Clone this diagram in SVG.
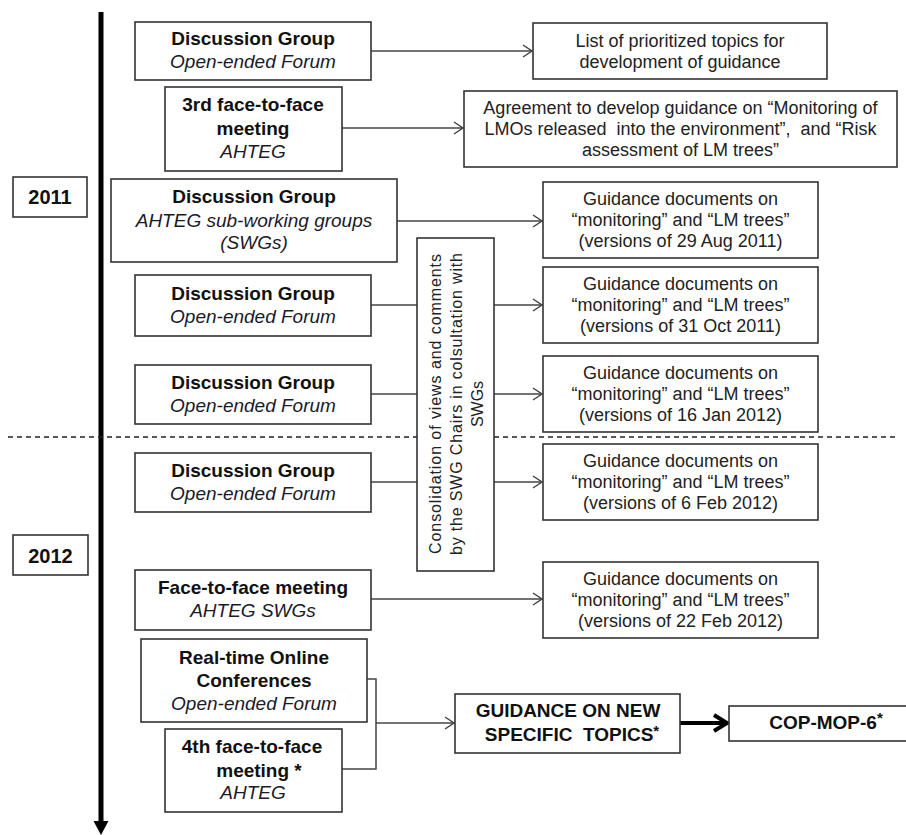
<svg xmlns="http://www.w3.org/2000/svg" width="906" height="835" viewBox="0 0 906 835">
<style>
  .box { fill: #fff; stroke: #333; stroke-width: 1.6; }
  .b { font-family: "Liberation Sans", Arial, sans-serif; font-weight: bold; font-size: 19px; fill: #111; text-anchor: middle; }
  .y { font-size: 20px; }
  .i { font-family: "Liberation Sans", Arial, sans-serif; font-style: italic; font-size: 19px; fill: #1a1a2a; text-anchor: middle; }
  .r { font-family: "Liberation Sans", Arial, sans-serif; font-size: 18px; fill: #222; text-anchor: middle; white-space: pre; }
  .v { font-family: "Liberation Sans", Arial, sans-serif; font-size: 16px; fill: #222; text-anchor: middle; }
  .sup { font-size: 15px; }
  .ln { fill: none; stroke: #444; stroke-width: 1.5; }
  .arr { marker-end: url(#open); }
</style>
<defs>
  <marker id="open" markerUnits="userSpaceOnUse" markerWidth="12" markerHeight="14" refX="10" refY="7" orient="auto">
    <path d="M1,1 L10,7 L1,13" fill="none" stroke="#444" stroke-width="1.5"/>
  </marker>
  <marker id="thick" markerUnits="userSpaceOnUse" markerWidth="18" markerHeight="20" refX="15" refY="10" orient="auto">
    <path d="M2,2 L15,10 L2,18" fill="none" stroke="#000" stroke-width="4"/>
  </marker>
</defs>
<rect width="906" height="835" fill="#fff"/>

<g id="timeline">
  <line x1="101" y1="12" x2="101" y2="823" stroke="#000" stroke-width="5"/>
  <polygon points="93.5,821 108.5,821 101,835" fill="#000"/>
  <line x1="8" y1="437" x2="897" y2="437" stroke="#222" stroke-width="1.4" stroke-dasharray="5,4"/>
</g>

<g id="year2011">
  <rect class="box" x="13" y="177" width="74" height="40"/>
  <text class="b y" x="50" y="204">2011</text>
</g>
<g id="year2012">
  <rect class="box" x="13" y="535" width="75" height="40"/>
  <text class="b y" x="50.5" y="563">2012</text>
</g>

<g id="connectors">
  <line class="ln arr" x1="371" y1="51" x2="532" y2="51"/>
  <line class="ln arr" x1="342" y1="128" x2="463" y2="128"/>
  <line class="ln arr" x1="397" y1="221" x2="542" y2="221"/>
  <line class="ln" x1="371" y1="305" x2="417" y2="305"/>
  <line class="ln arr" x1="494" y1="305" x2="542" y2="305"/>
  <line class="ln" x1="371" y1="394" x2="417" y2="394"/>
  <line class="ln arr" x1="494" y1="394" x2="542" y2="394"/>
  <line class="ln" x1="371" y1="482" x2="417" y2="482"/>
  <line class="ln arr" x1="494" y1="482" x2="542" y2="482"/>
  <line class="ln arr" x1="371" y1="599" x2="542" y2="599"/>
  <polyline class="ln" points="367,679 376,679 376,769 342,769"/>
  <line class="ln arr" x1="376" y1="723" x2="454" y2="723"/>
  <line x1="680" y1="723" x2="727" y2="723" stroke="#000" stroke-width="4" marker-end="url(#thick)"/>
</g>

<g id="dg1">
  <rect class="box" x="135" y="22" width="236" height="58"/>
  <text class="b" x="253" y="45">Discussion Group</text>
  <text class="i" x="253" y="68">Open-ended Forum</text>
</g>
<g id="f2f3">
  <rect class="box" x="165" y="87" width="177" height="84"/>
  <text class="b" x="253" y="111">3rd face-to-face</text>
  <text class="b" x="253" y="135">meeting</text>
  <text class="i" x="253" y="158">AHTEG</text>
</g>
<g id="dg-swg">
  <rect class="box" x="111" y="179" width="286" height="83"/>
  <text class="b" x="254" y="203">Discussion Group</text>
  <text class="i" x="254" y="227">AHTEG sub-working groups</text>
  <text class="i" x="254" y="249">(SWGs)</text>
</g>
<g id="dg2">
  <rect class="box" x="135" y="275" width="236" height="61"/>
  <text class="b" x="253" y="300">Discussion Group</text>
  <text class="i" x="253" y="323">Open-ended Forum</text>
</g>
<g id="dg3">
  <rect class="box" x="135" y="365" width="236" height="59"/>
  <text class="b" x="253" y="389">Discussion Group</text>
  <text class="i" x="253" y="412">Open-ended Forum</text>
</g>
<g id="dg4">
  <rect class="box" x="135" y="453" width="236" height="59"/>
  <text class="b" x="253" y="477">Discussion Group</text>
  <text class="i" x="253" y="500">Open-ended Forum</text>
</g>
<g id="f2f-swg">
  <rect class="box" x="135" y="570" width="236" height="60"/>
  <text class="b" x="253" y="594">Face-to-face meeting</text>
  <text class="i" x="253" y="617">AHTEG SWGs</text>
</g>
<g id="online">
  <rect class="box" x="141" y="639" width="226" height="83"/>
  <text class="b" x="254" y="664">Real-time Online</text>
  <text class="b" x="254" y="687">Conferences</text>
  <text class="i" x="254" y="710">Open-ended Forum</text>
</g>
<g id="f2f4">
  <rect class="box" x="165" y="729" width="177" height="83"/>
  <text class="b" x="252" y="753">4th face-to-face</text>
  <text class="b" x="259" y="777">meeting *</text>
  <text class="i" x="253" y="799">AHTEG</text>
</g>

<g id="consolidation">
  <rect class="box" x="417" y="238" width="77" height="333"/>
  <g transform="translate(455.5,404) rotate(-90)">
    <text class="v" x="0" y="-15" textLength="300" lengthAdjust="spacing">Consolidation of views and comments</text>
    <text class="v" x="0" y="6" textLength="302" lengthAdjust="spacing">by the SWG Chairs in colsultation with</text>
    <text class="v" x="0" y="27">SWGs</text>
  </g>
</g>

<g id="out-topics">
  <rect class="box" x="533" y="23" width="294" height="56"/>
  <text class="r" x="680" y="47">List of prioritized topics for</text>
  <text class="r" x="680" y="68">development of guidance</text>
</g>
<g id="out-agreement">
  <rect class="box" x="464" y="91" width="433" height="76"/>
  <text class="r" x="680.5" y="114">Agreement to develop guidance on “Monitoring of</text>
  <text class="r" x="680.5" y="135" xml:space="preserve">LMOs released  into the environment”,  and “Risk</text>
  <text class="r" x="680.5" y="156">assessment of LM trees”</text>
</g>
<g id="out-aug">
  <rect class="box" x="543" y="182" width="275" height="76"/>
  <text class="r" x="680.5" y="205">Guidance documents on</text>
  <text class="r" x="680.5" y="226">“monitoring” and “LM trees”</text>
  <text class="r" x="680.5" y="247">(versions of 29 Aug 2011)</text>
</g>
<g id="out-oct">
  <rect class="box" x="543" y="267" width="275" height="76"/>
  <text class="r" x="680.5" y="290">Guidance documents on</text>
  <text class="r" x="680.5" y="311">“monitoring” and “LM trees”</text>
  <text class="r" x="680.5" y="332">(versions of 31 Oct 2011)</text>
</g>
<g id="out-jan">
  <rect class="box" x="543" y="356" width="275" height="76"/>
  <text class="r" x="680.5" y="379">Guidance documents on</text>
  <text class="r" x="680.5" y="400">“monitoring” and “LM trees”</text>
  <text class="r" x="680.5" y="421">(versions of 16 Jan 2012)</text>
</g>
<g id="out-feb6">
  <rect class="box" x="543" y="444" width="275" height="76"/>
  <text class="r" x="680.5" y="467">Guidance documents on</text>
  <text class="r" x="680.5" y="488">“monitoring” and “LM trees”</text>
  <text class="r" x="680.5" y="509">(versions of 6 Feb 2012)</text>
</g>
<g id="out-feb22">
  <rect class="box" x="543" y="562" width="275" height="76"/>
  <text class="r" x="680.5" y="585">Guidance documents on</text>
  <text class="r" x="680.5" y="606">“monitoring” and “LM trees”</text>
  <text class="r" x="680.5" y="627">(versions of 22 Feb 2012)</text>
</g>
<g id="guidance-new">
  <rect class="box" x="455" y="694" width="225" height="59"/>
  <text class="b" x="568" y="717">GUIDANCE ON NEW</text>
  <text class="b" x="572" y="741" xml:space="preserve">SPECIFIC  TOPICS<tspan class="sup" dy="-5">*</tspan></text>
</g>
<g id="copmop">
  <rect class="box" x="729" y="706" width="178" height="35"/>
  <text class="b" x="826" y="729">COP-MOP-6<tspan class="sup" dy="-6">*</tspan></text>
</g>
</svg>
